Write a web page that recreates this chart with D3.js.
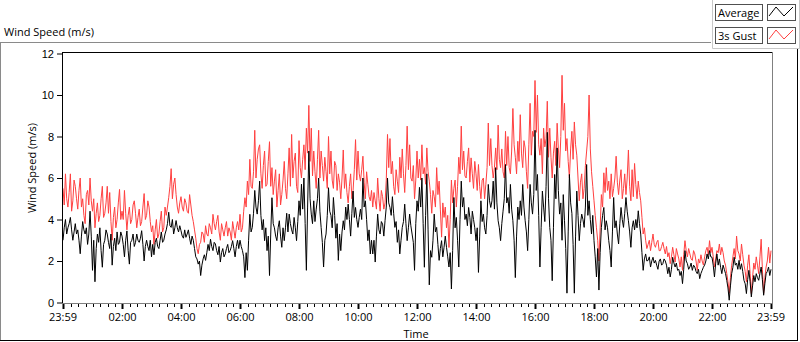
<!DOCTYPE html>
<html lang="en">
<head>
<meta charset="utf-8">
<title>Wind Speed (m/s)</title>
<script src="https://cdn.jsdelivr.net/npm/d3@7"></script>
<style>
  body { margin: 0; background: #fff; }
  svg { display: block; font-family: "Open Sans", sans-serif; }
  .lbl { font-size: 11px; fill: #000; }
</style>
</head>
<body>
<div id="chart"></div>
<script>
// readings every 2.5 minutes (150 s), starting 23:59; one row = half an hour
var startTime = new Date(2015, 0, 1, 23, 59),
    stepSeconds = 150;

var seriesNames = ["Average", "3s Gust"];

var avg = [
  3.0,3.6,4.0,3.3,3.6,3.8,4.1,3.5,3.0,3.4,3.8,3.3,
  3.5,3.0,2.35,3.2,3.9,3.5,3.3,3.6,2.8,3.3,4.4,3.2,
  1.55,3.0,1.0,2.6,3.3,2.9,3.6,2.5,1.7,2.8,3.0,3.5,
  3.3,2.9,2.6,3.3,1.8,2.7,3.1,2.5,3.4,2.8,2.9,3.4,
  3.2,2.8,2.2,3.0,3.45,2.5,1.85,2.9,3.0,3.3,2.7,2.9,
  3.3,3.0,2.9,3.1,3.46,2.8,2.0,2.7,3.0,2.7,2.5,3.0,
  2.2,2.8,2.3,2.9,3.1,2.7,2.6,3.0,3.4,2.9,3.0,3.3,
  3.5,3.8,4.35,3.7,3.62,4.0,3.3,3.6,3.95,3.6,3.4,3.7,
  3.46,3.2,3.1,3.5,3.14,3.3,3.5,3.1,2.8,3.2,3.0,2.6,
  2.2,2.1,1.85,2.0,1.3,1.8,2.1,2.3,2.03,2.4,2.8,2.5,
  3.05,2.7,2.5,2.9,2.82,2.5,2.3,2.7,1.95,2.4,2.6,2.2,
  2.34,2.6,2.8,2.4,2.5,2.7,2.98,2.6,2.2,2.7,3.0,2.6,
  3.0,2.7,2.5,2.2,1.2,2.4,1.55,3.0,4.25,3.4,3.62,4.3,
  5.4,4.6,4.26,4.9,5.85,4.2,3.5,4.0,2.98,3.6,2.5,3.2,
  1.3,3.3,5.05,3.8,3.6,3.2,2.98,3.6,3.94,3.2,2.66,3.6,
  2.98,3.6,4.3,3.4,4.26,3.8,3.5,3.3,4.1,3.6,2.98,3.9,
  4.9,4.2,5.7,4.5,6.0,3.8,1.55,4.6,7.3,5.0,4.26,3.8,
  4.9,3.9,4.5,5.0,6.0,4.4,3.62,2.9,1.71,3.0,3.3,4.2,
  5.53,4.4,4.2,3.6,5.06,4.2,3.1,3.8,2.03,3.3,2.5,3.4,
  3.94,3.5,4.6,4.0,4.74,4.0,3.2,4.3,5.37,4.1,4.58,4.0,
  3.62,4.1,4.5,4.0,6.0,4.6,4.9,4.0,2.98,3.5,2.34,3.0,
  2.34,3.0,1.95,3.2,4.26,3.5,3.3,3.9,3.78,3.2,3.94,4.6,
  6.0,4.8,4.58,4.2,5.1,4.3,3.62,3.9,2.9,3.5,2.34,3.0,
  3.62,3.9,4.74,3.8,2.98,3.6,4.26,3.7,3.3,2.9,1.55,3.8,
  4.9,4.4,5.55,4.6,6.0,3.8,1.7,4.2,6.2,3.5,0.85,2.5,
  2.18,3.0,4.26,3.4,3.62,2.8,2.03,2.6,2.98,2.2,2.66,3.2,
  2.66,2.2,1.71,2.4,0.65,2.5,5.06,3.6,4.1,3.0,1.71,4.0,
  5.85,4.6,5.06,4.0,4.26,3.7,4.58,4.1,3.3,4.4,4.0,3.6,
  2.98,3.6,1.45,3.2,4.9,3.9,4.26,3.6,3.3,4.2,5.69,4.9,
  4.58,4.9,5.85,4.5,6.5,4.8,3.94,3.6,2.98,3.8,4.4,5.0,
  6.65,4.8,5.06,4.3,5.69,4.5,3.94,3.0,1.2,3.2,4.6,4.0,
  4.9,4.2,5.69,4.6,3.94,3.4,2.5,4.0,5.69,4.8,4.26,5.2,
  8.3,5.4,6.17,4.2,1.71,3.6,5.37,4.6,3.9,5.6,8.2,5.0,
  3.62,3.0,1.05,3.6,6.17,5.0,7.45,5.4,4.26,4.8,3.0,5.2,
  3.94,2.6,0.45,3.4,6.17,4.8,4.3,2.8,0.45,3.2,5.37,4.2,
  2.98,3.8,4.26,4.0,3.62,4.6,6.65,4.2,4.9,4.0,3.3,4.2,
  2.98,2.2,1.23,2.6,0.6,2.4,3.62,4.2,4.58,3.5,3.94,3.6,
  2.98,2.5,1.71,3.4,5.06,3.6,3.94,3.3,2.82,3.8,4.58,4.0,
  3.62,4.3,5.06,4.4,3.94,3.4,2.66,3.6,3.94,3.5,4.0,3.6,
  4.42,3.8,3.3,2.4,1.55,2.1,2.34,2.0,2.03,2.2,1.71,2.0,
  2.18,1.9,2.03,1.8,1.6,2.0,2.1,1.8,1.87,2.1,2.0,1.8,
  1.39,1.7,1.23,1.6,2.18,1.9,1.71,1.9,1.55,1.6,1.3,1.5,
  0.91,1.6,2.5,2.0,1.87,1.6,1.71,1.9,1.55,1.8,1.71,1.5,
  1.39,1.6,1.15,1.4,1.55,1.7,1.8,2.0,2.34,2.1,2.5,2.2,
  2.18,1.8,1.23,1.9,2.34,1.8,2.1,1.7,1.39,1.8,1.6,1.4,
  1.07,0.7,0.11,0.8,1.39,1.7,2.18,1.8,1.9,1.6,2.03,1.6,
  1.87,1.5,1.07,0.9,0.43,1.1,1.55,1.0,0.27,0.8,1.3,1.0,
  1.39,1.2,1.07,1.4,1.71,1.1,0.35,0.9,1.39,1.5,1.71,1.3,
  1.6
];

var gust = [
  5.5,4.7,6.2,5.0,4.6,5.3,6.2,4.4,4.9,5.9,5.6,5.0,
  4.5,5.4,6.0,4.6,5.0,4.2,3.8,5.2,5.4,4.7,6.0,4.9,
  4.4,5.0,3.6,4.3,4.8,3.9,4.2,5.0,5.6,4.1,4.3,4.8,
  5.6,4.3,5.3,3.9,3.0,4.1,4.6,3.6,4.0,4.8,5.45,4.0,
  4.4,4.0,5.4,4.3,3.5,4.2,4.6,3.8,4.0,4.7,4.9,4.3,
  3.6,4.1,4.5,3.7,3.9,4.6,5.25,4.0,4.2,4.9,4.6,3.9,
  3.4,3.7,2.8,3.5,4.0,3.1,3.3,3.9,4.4,3.4,3.6,4.6,
  4.2,4.6,5.05,5.6,6.45,5.0,5.7,6.0,5.2,4.6,4.3,4.8,
  5.1,4.6,4.4,5.0,4.8,4.4,4.3,5.2,4.7,4.2,3.9,3.5,
  3.1,2.6,2.35,2.8,2.9,3.4,3.3,2.9,3.7,3.3,3.2,3.8,
  3.6,3.3,4.25,3.8,3.5,3.9,4.2,3.4,3.0,3.8,3.5,3.2,
  3.6,3.9,3.2,3.6,3.4,3.0,3.9,3.5,3.1,3.6,3.9,3.5,
  4.25,3.4,3.6,4.4,5.05,4.6,5.85,5.2,6.9,5.6,5.5,6.3,
  8.3,6.0,6.9,7.4,7.6,6.2,5.5,6.6,7.3,5.6,5.7,6.8,
  7.75,5.6,6.5,5.2,5.85,6.4,4.6,5.4,6.2,4.7,5.2,5.9,
  6.8,5.5,5.0,6.2,7.45,5.6,8.1,6.0,6.8,7.2,5.6,5.3,
  7.8,6.5,6.0,6.9,7.6,6.4,8.4,7.2,9.5,6.8,8.4,6.1,
  7.3,6.3,5.5,6.9,8.3,6.0,7.3,6.6,5.85,7.0,6.3,5.5,
  8.0,6.2,7.3,5.9,5.5,6.8,6.6,5.4,6.2,5.8,5.0,6.0,
  7.35,5.5,6.2,5.3,4.8,5.6,6.2,5.0,5.4,6.4,7.85,5.9,
  7.3,6.2,5.85,6.4,7.05,5.8,5.0,6.3,5.7,5.1,4.9,5.4,
  4.6,5.3,4.9,4.5,6.0,5.0,4.4,5.4,5.1,4.5,4.8,5.9,
  8.1,6.5,7.9,6.2,6.8,5.6,5.2,6.4,5.85,5.3,7.0,6.0,
  7.4,6.2,5.3,6.6,8.5,6.4,7.6,6.0,5.85,6.6,5.0,5.9,
  7.3,6.0,6.9,5.9,7.6,6.2,6.5,5.7,7.45,6.3,5.85,5.2,
  4.3,5.4,5.1,4.6,6.5,5.2,5.85,4.5,3.15,4.8,4.1,4.6,
  3.6,4.2,2.65,4.0,5.9,4.8,5.5,5.9,4.6,5.6,7.0,6.2,
  8.5,6.4,7.3,6.1,6.0,6.8,7.45,5.8,6.97,6.2,5.5,6.8,
  6.2,5.4,6.65,5.6,5.0,5.9,6.0,5.0,5.7,6.5,8.65,6.6,
  7.9,6.6,6.0,6.5,7.45,6.4,8.55,6.9,6.5,7.4,6.3,6.0,
  8.25,6.6,8.0,6.5,6.2,7.3,9.35,7.6,7.0,6.2,7.77,6.8,
  9.05,7.2,6.5,7.8,7.45,6.3,5.5,7.6,9.6,7.1,8.25,8.0,
  10.7,8.2,10.0,7.6,7.1,7.9,6.2,8.4,7.5,7.9,9.7,7.0,
  8.4,7.0,6.0,7.2,7.77,6.6,8.64,7.4,6.5,8.0,10.95,8.3,
  9.6,7.3,7.9,6.8,6.0,7.4,8.25,6.9,8.7,7.6,7.1,6.0,
  4.9,5.8,6.2,5.0,5.5,6.6,7.3,8.0,10.0,7.4,6.3,5.6,
  4.9,4.2,3.6,3.0,2.0,3.6,5.2,4.6,6.25,5.3,6.5,5.4,
  5.85,5.0,6.2,5.1,5.5,6.0,7.05,5.8,5.2,5.9,6.4,5.0,
  5.5,6.2,5.2,6.0,7.35,5.6,4.9,6.4,5.1,6.7,5.7,5.0,
  5.85,5.3,4.9,4.1,3.3,3.6,3.0,2.6,2.8,3.0,2.5,2.9,
  3.3,2.8,2.66,2.9,3.0,2.5,2.5,2.7,2.9,2.6,2.34,2.7,
  2.2,2.4,1.87,2.2,2.66,2.3,1.95,2.6,2.34,2.1,1.71,2.2,
  1.55,2.3,2.98,2.5,2.2,2.6,2.34,2.1,2.03,2.5,2.34,2.0,
  1.55,2.1,1.9,2.3,2.0,1.8,2.2,2.5,2.66,2.3,2.98,2.4,
  2.66,2.2,1.71,2.1,2.5,2.4,2.82,2.3,2.66,2.4,2.0,1.8,
  1.4,1.0,0.45,1.2,1.8,2.2,2.6,2.1,3.2,2.5,2.34,2.0,
  2.82,2.3,1.8,1.5,1.0,1.8,2.3,1.4,0.43,1.2,1.9,1.6,
  2.2,1.8,1.39,2.2,3.05,1.6,0.43,1.2,1.71,2.0,2.66,1.9,
  2.5
];

var yTicks = [0, 2, 4, 6, 8, 10, 12];
var xTicks = ["23:59", "02:00", "04:00", "06:00", "08:00", "10:00", "12:00",
              "14:00", "16:00", "18:00", "20:00", "22:00", "23:59"];
var colors = ["#000000", "#ff4040"];

var W = 800, H = 342,
    plot = {left: 62, right: 772, top: 52, bottom: 303};

var endTime = d3.timeSecond.offset(startTime, stepSeconds * (avg.length - 1));

function timeAt(i) { return d3.timeSecond.offset(startTime, i * stepSeconds); }

function tickDate(label, i) {
  if (i === 0) return startTime;
  if (i === xTicks.length - 1) return endTime;
  var p = label.split(":");
  return new Date(2015, 0, 2, +p[0], +p[1]);
}

var x = d3.scaleTime().domain([startTime, endTime]).range([63, 771]);
var y = d3.scaleLinear().domain([0, 12]).range([302.5, 53.5]);

var svg = d3.select("#chart").append("svg")
    .attr("width", W).attr("height", H);

// outer panel frame
svg.append("line").attr("x1", 0).attr("x2", 711).attr("y1", 42.5).attr("y2", 42.5).attr("stroke", "#8a8a8a");
svg.append("line").attr("x1", 0.5).attr("x2", 0.5).attr("y1", 42).attr("y2", 341).attr("stroke", "#8a8a8a");
svg.append("line").attr("x1", 0).attr("x2", 798).attr("y1", 340.5).attr("y2", 340.5).attr("stroke", "#000");
svg.append("line").attr("x1", 797.5).attr("x2", 797.5).attr("y1", 48).attr("y2", 341).attr("stroke", "#000");

svg.append("text").attr("class", "lbl").attr("x", 4).attr("y", 36).text("Wind Speed (m/s)");

// legend panel
svg.append("path").attr("d", "M712.5,0V48.5H799.5V0").attr("fill", "none").attr("stroke", "#c8c8c8");

var legend = svg.selectAll("g.legend").data(seriesNames).enter().append("g")
    .attr("class", "legend")
    .attr("transform", function(d, i) { return "translate(715," + (4 + i * 23) + ")"; });

legend.append("rect").attr("x", 0.5).attr("y", 0.5).attr("width", 47).attr("height", 16)
    .attr("fill", "#fff").attr("stroke", "#505050");
legend.append("text").attr("class", "lbl").attr("x", 3).attr("y", 13).text(function(d) { return d; });
legend.append("rect").attr("x", 52.5).attr("y", 0.5).attr("width", 28).attr("height", 16)
    .attr("fill", "#fff").attr("stroke", "#505050");
legend.append("path")
    .attr("d", "M54,12L61,3L69,12L78,3")
    .attr("fill", "none")
    .attr("stroke", function(d, i) { return colors[i]; });

// plot frame
svg.append("rect").attr("x", plot.left).attr("y", plot.top)
    .attr("width", plot.right - plot.left).attr("height", plot.bottom - plot.top).attr("fill", "#fff");

var line = d3.line()
    .x(function(d, i) { return x(timeAt(i)); })
    .y(function(d) { return y(d); });

svg.append("path").datum(gust).attr("d", line)
    .attr("fill", "none").attr("stroke", colors[1]).attr("stroke-width", 1);
svg.append("path").datum(avg).attr("d", line)
    .attr("fill", "none").attr("stroke", colors[0]).attr("stroke-width", 1);

svg.append("line").attr("x1", plot.left).attr("x2", plot.right + 1).attr("y1", plot.top + 0.5).attr("y2", plot.top + 0.5).attr("stroke", "#000");
svg.append("line").attr("x1", plot.left + 0.5).attr("x2", plot.left + 0.5).attr("y1", plot.top).attr("y2", plot.bottom + 1).attr("stroke", "#000");
svg.append("line").attr("x1", plot.right + 0.5).attr("x2", plot.right + 0.5).attr("y1", plot.top).attr("y2", plot.bottom + 1).attr("stroke", "#808080");
svg.append("line").attr("x1", plot.left).attr("x2", plot.right + 1).attr("y1", plot.bottom + 0.5).attr("y2", plot.bottom + 0.5).attr("stroke", "#808080");

// y axis
var yAxis = svg.append("g").attr("transform", "translate(" + plot.left + ",0)")
    .call(d3.axisLeft(y).tickValues(yTicks).tickSize(5).tickPadding(3));
yAxis.select(".domain").remove();
yAxis.selectAll("text").attr("class", "lbl").style("font-size", null).attr("font-size", null);

svg.append("text").attr("class", "lbl")
    .attr("transform", "translate(36,168) rotate(-90)")
    .attr("text-anchor", "middle")
    .text("Wind Speed (m/s)");

// x axis: minor ticks every 15 minutes, major at the labels
var majors = xTicks.map(tickDate);
var minors = d3.timeMinute.every(15).range(startTime, endTime).filter(function(t) {
  return majors.every(function(m) { return Math.abs(x(t) - x(m)) > 3; });
});

svg.append("g").selectAll("line").data(minors).enter().append("line")
    .attr("x1", function(d) { return Math.round(x(d)) + 0.5; })
    .attr("x2", function(d) { return Math.round(x(d)) + 0.5; })
    .attr("y1", plot.bottom + 1).attr("y2", plot.bottom + 4)
    .attr("stroke", "#000");

svg.append("g").selectAll("line").data(majors).enter().append("line")
    .attr("x1", function(d) { return Math.round(x(d)) + 0.5; })
    .attr("x2", function(d) { return Math.round(x(d)) + 0.5; })
    .attr("y1", plot.bottom + 1).attr("y2", plot.bottom + 6)
    .attr("stroke", "#000").attr("stroke-width", 2);

svg.append("g").selectAll("text").data(xTicks).enter().append("text")
    .attr("class", "lbl")
    .attr("text-anchor", "middle")
    .attr("x", function(d, i) { return x(majors[i]); })
    .attr("y", 321)
    .text(function(d) { return d; });

svg.append("text").attr("class", "lbl")
    .attr("x", 416).attr("y", 338).attr("text-anchor", "middle").text("Time");
</script>
</body>
</html>
